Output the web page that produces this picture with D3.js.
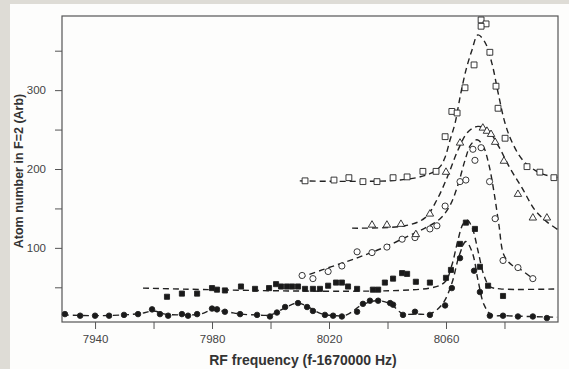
<!DOCTYPE html>
<html>
<head>
<meta charset="utf-8">
<script src="https://cdn.jsdelivr.net/npm/d3@7"></script>
<style>
  body { margin: 0; background: #fdfdfc; }
  svg { display: block; font-family: "Liberation Sans", Arial, sans-serif; }
</style>
</head>
<body>
<div id="chart"></div>
<script>
// data: [frequency, atom number]
const filledCircles = [
  [7929.7, 16], [7934.9, 14], [7940, 14], [7944.8, 14], [7949.9, 15], [7954.7, 16],
  [7959.5, 22], [7962.2, 16], [7965, 14], [7969.7, 16], [7971.8, 14], [7974.9, 16],
  [7980, 23], [7981.7, 22], [7984.4, 19], [7989.6, 16], [7995.4, 15], [7999.8, 13],
  [8002.2, 18], [8005, 25], [8009.4, 30], [8012.5, 25], [8014.5, 20], [8018.6, 15],
  [8021.4, 14], [8024.4, 13], [8029.6, 19], [8031.6, 29], [8034, 33], [8036.8, 33],
  [8040.9, 30], [8041.9, 28], [8045.3, 15], [8049.4, 19], [8054.5, 15], [8059.7, 27],
  [8062, 49], [8064.8, 87], [8069.6, 71], [8071.6, 44], [8075, 14], [8079.5, 14],
  [8084.6, 13], [8089.7, 13], [8094.5, 11]
];
const filledSquares = [
  [7964.6, 38], [7969.7, 42], [7974.9, 42], [7980, 49], [7981.7, 47], [7984.4, 46],
  [7989.9, 51], [7994.7, 48], [7999.5, 49], [8001.9, 54], [8003.6, 51], [8005.6, 51],
  [8007.4, 51], [8009.4, 51], [8011.8, 48], [8014.5, 48], [8016.9, 48], [8019.7, 52],
  [8022.4, 56], [8024.4, 56], [8026.5, 51], [8029.6, 48], [8035, 47], [8036.8, 47],
  [8039.1, 56], [8041.9, 61], [8045, 68], [8046.7, 67], [8049.7, 57], [8054.5, 56],
  [8060, 62], [8061.7, 72], [8064.8, 105], [8066.8, 132], [8069.9, 124], [8071.6, 76],
  [8074.4, 52], [8079.5, 39]
];
const openCircles = [
  [8010.8, 65], [8014.5, 61], [8019.7, 70], [8024.4, 77], [8029.6, 95], [8034.7, 94],
  [8039.8, 101], [8045, 111], [8049.4, 113], [8054.5, 124], [8056.9, 128], [8059.7, 153],
  [8064.8, 184], [8066.8, 186], [8069.9, 211], [8069.2, 225], [8072, 227], [8074.9, 184],
  [8076.8, 137], [8079.5, 84], [8084.6, 75], [8089.7, 61]
];
const openTriangles = [
  [8034.7, 129], [8039.8, 129], [8044.6, 130], [8049.7, 117], [8054.5, 143], [8060, 196],
  [8064.8, 233], [8072.6, 252], [8074, 248], [8075.4, 244], [8076.8, 234], [8079.8, 210],
  [8084.6, 168], [8089.7, 138], [8094.5, 138]
];
const openSquares = [
  [8011.8, 185], [8021.7, 186], [8026.8, 189], [8031.6, 184], [8036.4, 184], [8041.9, 189],
  [8046.7, 190], [8052.1, 197], [8056.6, 197], [8059.7, 241], [8062, 273], [8063.8, 271],
  [8066.5, 303], [8069.6, 332], [8072, 389], [8073.7, 384], [8072, 381], [8075, 348],
  [8077.1, 305], [8077.8, 277], [8080.2, 239], [8087.7, 203], [8092.1, 196], [8096.9, 189]
];

// dashed fit curves
const fitCircles = [
  [7929, 15], [7940, 14], [7950, 15], [7956, 17], [7960, 20], [7964, 16], [7970, 15],
  [7976, 16], [7980, 21], [7985, 19], [7990, 16], [7995, 15], [8000, 15], [8005, 24],
  [8009, 30], [8013, 25], [8017, 17], [8022, 14], [8026, 15], [8031, 27], [8036, 33],
  [8041, 29], [8045, 17], [8050, 16], [8055, 17], [8059, 30], [8062, 55], [8064.5, 90],
  [8066.8, 108], [8069, 94], [8071, 58], [8073, 28], [8075.5, 15], [8080, 14], [8098, 12]
];
const fitSquares = [
  [7956.4, 49], [8054.5, 49], [8059.7, 57], [8062, 78], [8064.1, 110], [8065.8, 130],
  [8067.3, 135], [8069, 125], [8070.9, 97], [8072.9, 66], [8075, 51], [8078.5, 48], [8098.3, 48]
];
const fitOpenCircles = [
  [8010.1, 62], [8017.6, 72], [8025.5, 82], [8032.3, 91], [8039.1, 101], [8046, 113],
  [8052.8, 125], [8058, 137], [8061.4, 154], [8064.1, 180], [8066.5, 211], [8068.5, 231],
  [8070.6, 237], [8072.6, 230], [8074.7, 205], [8076.4, 171], [8078.1, 129], [8079.8, 91],
  [8082.6, 78], [8085.3, 73], [8089.7, 61]
];
const fitTriangles = [
  [8027.9, 125], [8046, 128], [8052.8, 138], [8056.9, 161], [8060.7, 192], [8064.1, 224],
  [8067.5, 247], [8070.9, 254], [8074.4, 249], [8077.8, 230], [8081.9, 201], [8086, 176],
  [8090.4, 148], [8094.5, 133], [8098.3, 123]
];
const fitOpenSquares = [
  [8010, 185], [8044.3, 186], [8054.5, 194], [8058, 203], [8059.7, 215], [8061.4, 237],
  [8063.1, 258], [8064.8, 291], [8066.8, 325], [8068.9, 351], [8070.9, 370], [8073.3, 361],
  [8075.7, 334], [8077.8, 297], [8080.2, 258], [8082.6, 234], [8086.3, 211], [8092.1, 195],
  [8098.3, 189]
];

const xTicks = [7940, 7960, 7980, 8000, 8020, 8040, 8060, 8080];
const yTicks = [50, 100, 150, 200, 250, 300, 350];

const width = 569;
const height = 369;
const plot = { left: 62, right: 558, top: 16, bottom: 322 };

const svg = d3.select('#chart')
  .append('svg')
  .attr('width', width)
  .attr('height', height);

// scanned page edges
svg.append('rect').attr('x', 0).attr('y', 0).attr('width', width).attr('height', height).attr('fill', '#fdfdfc');
svg.append('rect').attr('x', 0).attr('y', 0).attr('width', 10).attr('height', height).attr('fill', '#dedcd6');
svg.append('rect').attr('x', 0).attr('y', 0).attr('width', width).attr('height', 4).attr('fill', '#dedcd6');

const x = d3.scaleLinear().domain([7928.7, 8098.3]).range([plot.left, plot.right]);
const y = d3.scaleLinear().domain([6, 394]).range([plot.bottom, plot.top]);

const xAxis = svg.append('g')
  .attr('transform', `translate(0,${plot.bottom})`)
  .call(d3.axisBottom(x)
    .tickValues(xTicks)
    .tickSize(7)
    .tickPadding(6)
    .tickFormat(d => (d - 7940) % 40 === 0 ? d : ''));

const yAxis = svg.append('g')
  .attr('transform', `translate(${plot.left},0)`)
  .call(d3.axisLeft(y)
    .tickValues(yTicks)
    .tickSize(7)
    .tickPadding(9)
    .tickFormat(d => d % 100 === 0 ? d : ''));

[xAxis, yAxis].forEach(g => {
  g.select('.domain').remove();
  g.selectAll('line').attr('stroke', '#555');
  g.selectAll('text').attr('fill', '#444').style('font-size', '11.5px');
});

svg.append('rect')
  .attr('x', plot.left).attr('y', plot.top)
  .attr('width', plot.right - plot.left).attr('height', plot.bottom - plot.top)
  .attr('fill', 'none')
  .attr('stroke', '#555')
  .attr('stroke-width', 1.2);

// fits
const line = d3.line()
  .x(d => x(d[0]))
  .y(d => y(d[1]))
  .curve(d3.curveCatmullRom.alpha(0.5));

svg.append('clipPath').attr('id', 'plotclip')
  .append('rect')
  .attr('x', plot.left).attr('y', plot.top)
  .attr('width', plot.right - plot.left).attr('height', plot.bottom - plot.top);

const fits = svg.append('g').attr('clip-path', 'url(#plotclip)');

[fitCircles, fitSquares, fitOpenCircles, fitTriangles, fitOpenSquares].forEach(f => {
  fits.append('path')
    .attr('d', line(f))
    .attr('fill', 'none')
    .attr('stroke', '#222')
    .attr('stroke-width', 1.4)
    .attr('stroke-dasharray', '6,4');
});

// markers
const series = [
  { data: filledCircles, type: d3.symbolCircle, size: 24, fill: '#1a1a1a' },
  { data: filledSquares, type: d3.symbolSquare, size: 26, fill: '#1a1a1a' },
  { data: openCircles, type: d3.symbolCircle, size: 30, fill: '#fff' },
  { data: openTriangles, type: d3.symbolTriangle, size: 24, fill: '#fff' },
  { data: openSquares, type: d3.symbolSquare, size: 34, fill: '#fff' }
];

series.forEach(s => {
  svg.append('g')
    .selectAll('path')
    .data(s.data)
    .enter()
    .append('path')
    .attr('transform', d => `translate(${x(d[0])},${y(d[1])})`)
    .attr('d', d3.symbol().type(s.type).size(s.size))
    .attr('fill', s.fill)
    .attr('stroke', '#222')
    .attr('stroke-width', 0.9);
});

// axis titles
svg.append('text')
  .attr('x', 303)
  .attr('y', 365)
  .attr('text-anchor', 'middle')
  .attr('fill', '#333')
  .style('font-size', '14px')
  .style('font-weight', 'bold')
  .text('RF frequency (f-1670000 Hz)');

svg.append('text')
  .attr('transform', `translate(23,171) rotate(-90)`)
  .attr('text-anchor', 'middle')
  .attr('fill', '#333')
  .style('font-size', '12.5px')
  .style('font-weight', 'bold')
  .text('Atom number in F=2 (Arb)');
</script>
</body>
</html>
